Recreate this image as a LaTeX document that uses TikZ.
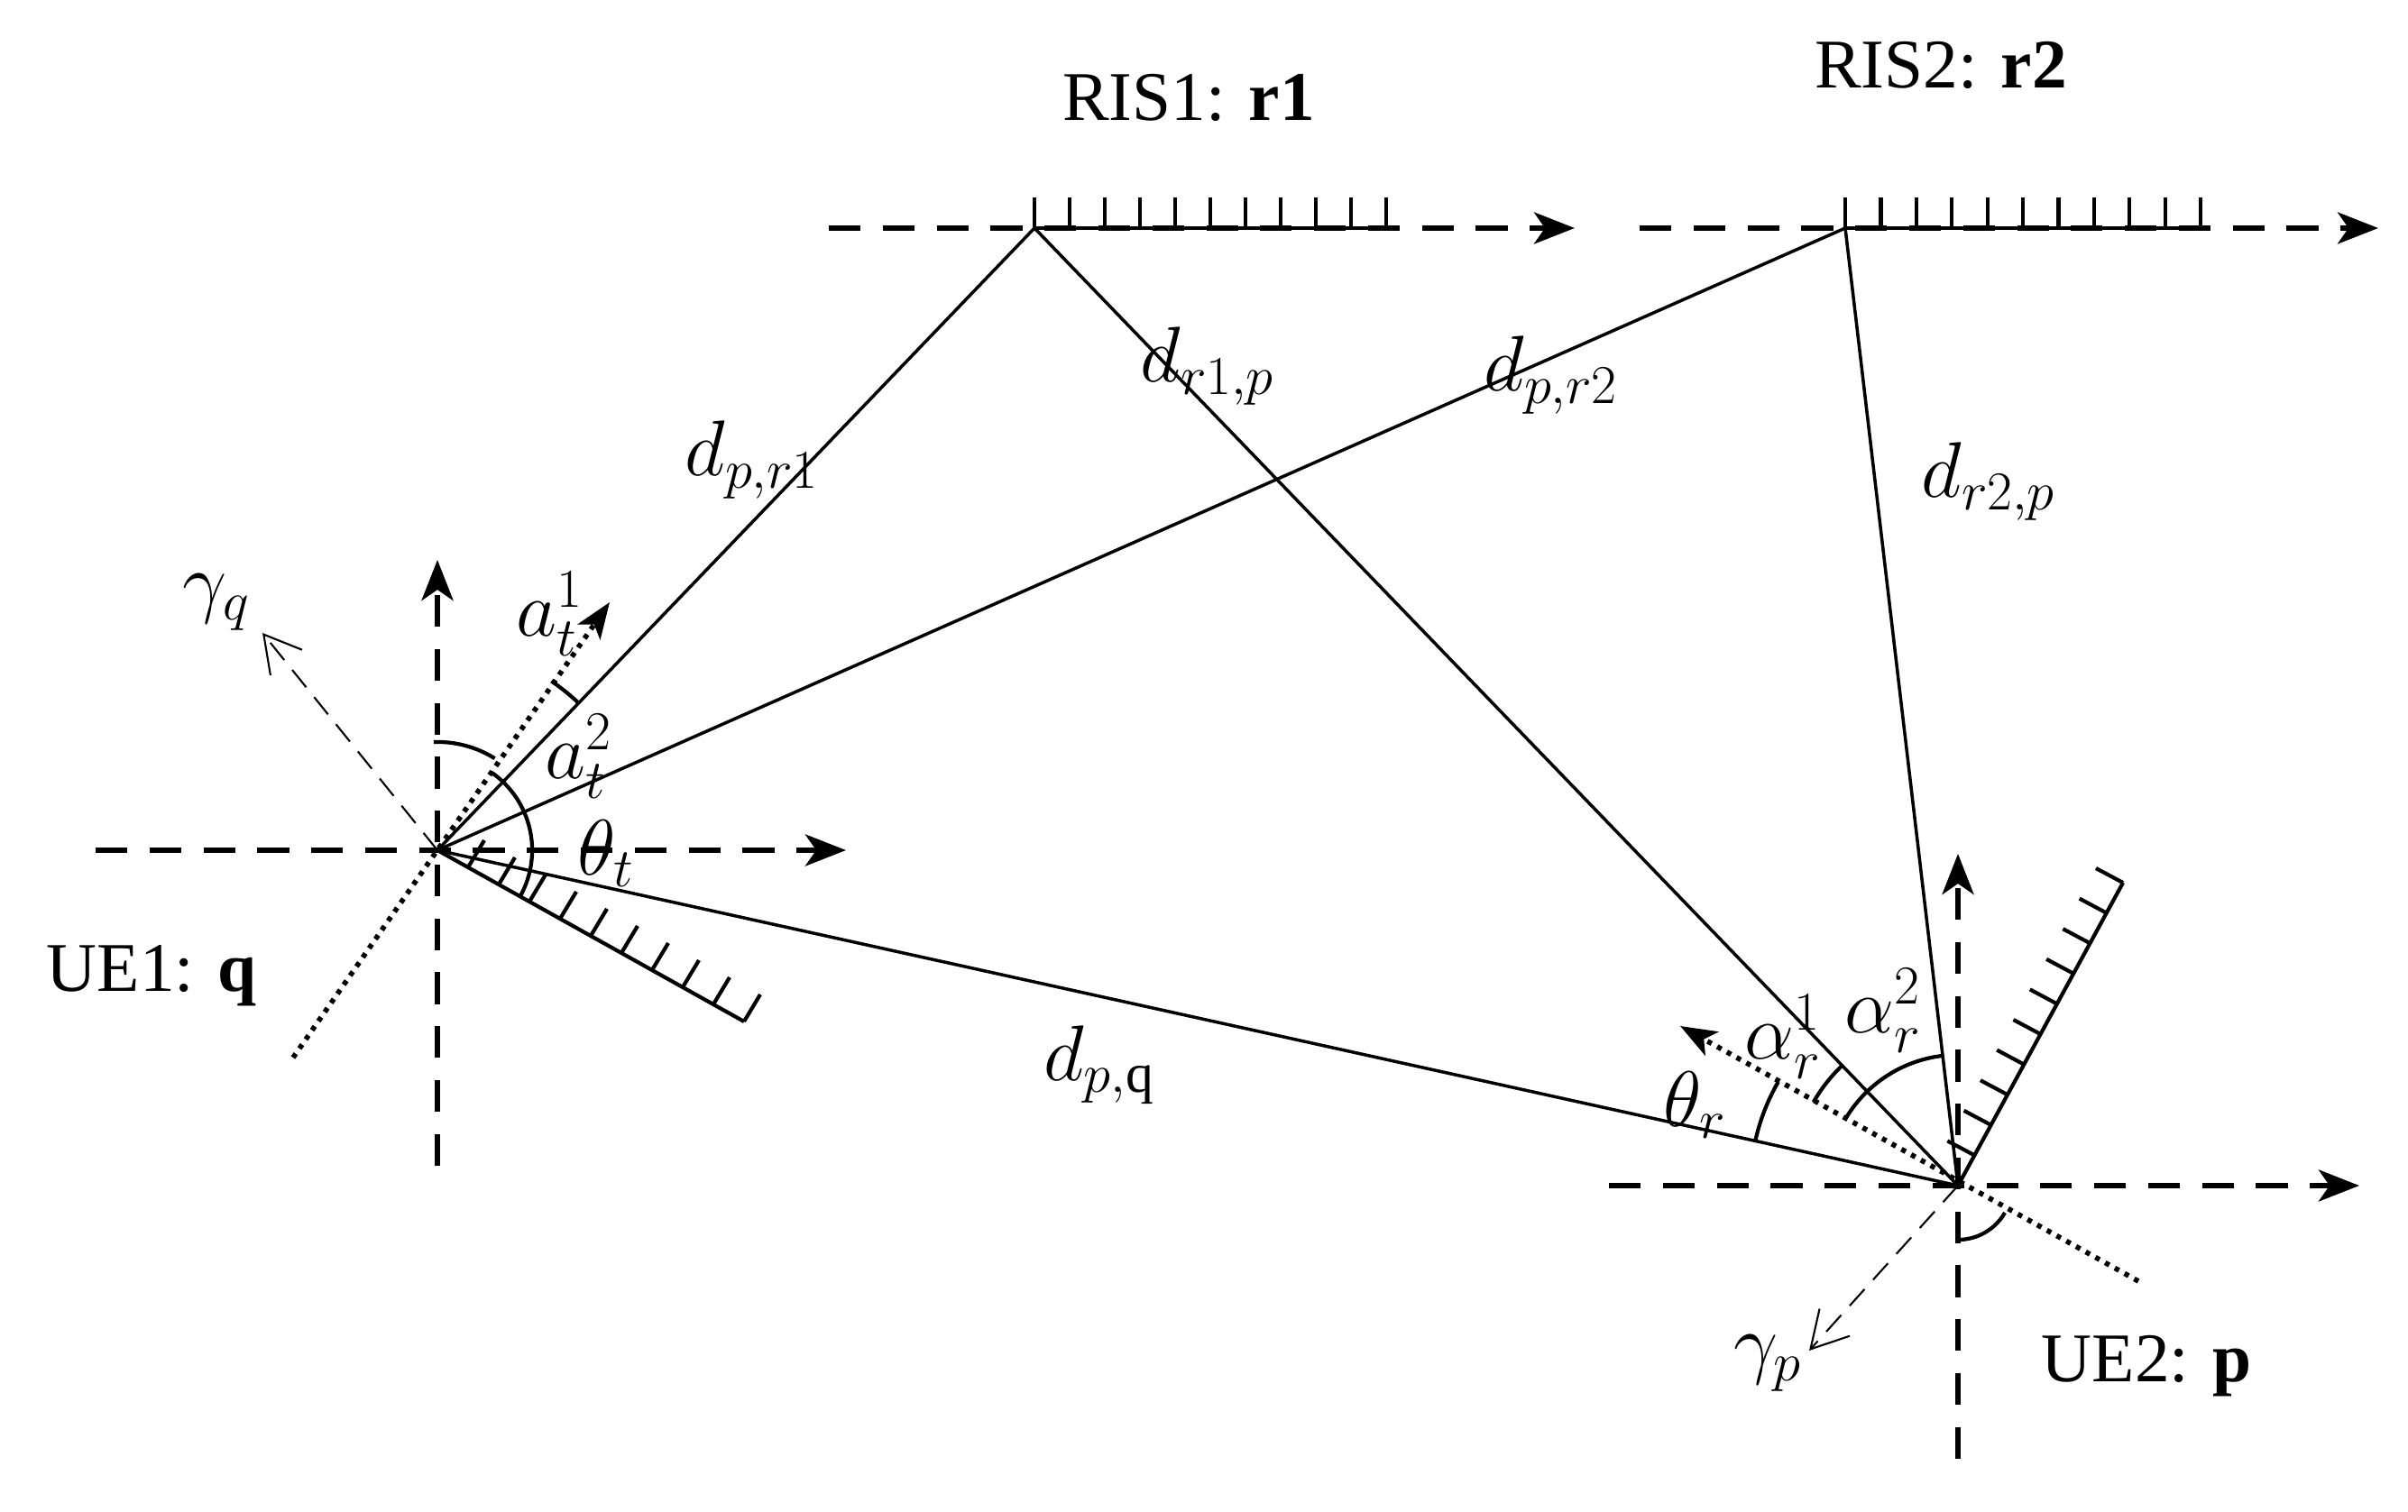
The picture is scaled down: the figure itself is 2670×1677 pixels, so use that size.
\documentclass[tikz,border=0pt]{standalone}
\usepackage{fontspec}
\setmainfont{Liberation Serif}
\usetikzlibrary{arrows.meta,calc}
\begin{document}
\begin{tikzpicture}[x=0.01cm,y=-0.01cm,
  ax/.style={line width=1.6pt,dash pattern=on 10pt off 7pt,-{Stealth[length=0.45cm,width=0.35cm,inset=0.12cm]}},
  axn/.style={line width=1.6pt,dash pattern=on 10pt off 7pt},
  ray/.style={line width=1pt},
  dot/.style={line width=1.6pt,dash pattern=on 1.5pt off 2pt},
  gam/.style={line width=0.6pt,dash pattern=on 7pt off 4pt,-{Straight Barb[length=0.4cm,width=0.45cm]}},
  ang/.style={line width=1.2pt},
  tick/.style={line width=1.2pt},
  lab/.style={font=\fontsize{22}{26}\selectfont},
  ml/.style={font=\fontsize{25}{30}\selectfont}]
\useasboundingbox (0,0) rectangle (2670,1677);
\coordinate (O1) at (485,943);
\coordinate (O2) at (2171,1315);
\coordinate (R1) at (1147,253);
\coordinate (R2) at (2046,253);
% RIS1
\coordinate (R1a) at (919,253); \coordinate (R1b) at (1746,253); \coordinate (R1e) at (1537,253);
\draw[ax] (R1a) -- (R1b);
\draw[tick] (R1) -- (R1e);
\foreach \t in {0,0.1,...,1.01} \draw[tick] ($(R1)!\t!(R1e)$) -- ++(0,0.34cm);
% RIS2
\coordinate (R2a) at (1818,253); \coordinate (R2b) at (2637,253); \coordinate (R2e) at (2440,253);
\draw[ax] (R2a) -- (R2b);
\draw[tick] (R2) -- (R2e);
\foreach \t in {0,0.1,...,1.01} \draw[tick] ($(R2)!\t!(R2e)$) -- ++(0,0.34cm);
% UE1 axes
\coordinate (H1a) at (106,943); \coordinate (H1b) at (938,943);
\coordinate (V1a) at (485,1293); \coordinate (V1b) at (485,621);
\draw[ax] (H1a) -- (H1b);
\draw[ax] (V1a) -- (V1b);
% UE2 axes
\coordinate (H2a) at (1784,1315); \coordinate (H2b) at (2616,1315);
\coordinate (V2a) at (2171,1618); \coordinate (V2b) at (2171,947);
\draw[ax] (H2a) -- (H2b);
\draw[ax] (V2a) -- (V2b);
% rays
\draw[ray] (O1) -- (R1);
\draw[ray] (O1) -- (R2);
\draw[ray] (O1) -- (O2);
\draw[ray] (R1) -- (O2);
\draw[ray] (R2) -- (O2);
% panels
\coordinate (P1) at (825,1133);
\draw[tick] (O1) -- (P1);
\foreach \t in {0.1,0.2,...,1.01} \draw[tick] ($(O1)!\t!(P1)$) -- ++(0.18cm,0.3cm);
\coordinate (P2) at (2354,979);
\draw[tick] (O2) -- (P2);
\foreach \t in {0.1,0.2,...,1.01} \draw[tick] ($(O2)!\t!(P2)$) -- ++(-0.3cm,0.16cm);
% dotted
\coordinate (D1a) at (325,1173); \coordinate (D1b) at (676,668);
\draw[dot,-{Stealth[length=0.4cm,width=0.3cm,inset=0.1cm]}] (D1a) -- (D1b);
\coordinate (D2a) at (2371,1421); \coordinate (D2b) at (1863,1138);
\draw[dot,-{Stealth[length=0.4cm,width=0.3cm,inset=0.1cm]}] (D2a) -- (D2b);
% gamma arrows
\coordinate (G1) at (291,702); \coordinate (G2) at (2006,1498);
\draw[gam] (O1) -- (G1);
\draw[gam] (O2) -- (G2);
% angle arcs UE1
\draw[ang] ([shift={(58:1.2cm)}]O1) arc[start angle=58,end angle=92,radius=1.2cm];
\draw[ang] ([shift={(46:2.26cm)}]O1) arc[start angle=46,end angle=56,radius=2.26cm];
\draw[ang] ([shift={(55:1.05cm)}]O1) arc[start angle=55,end angle=-29,radius=1.05cm];
% angle arcs UE2
\draw[ang] ([shift={(150:2.3cm)}]O2) arc[start angle=150,end angle=167.6,radius=2.3cm];
\draw[ang] ([shift={(134:1.85cm)}]O2) arc[start angle=134,end angle=150,radius=1.85cm];
\draw[ang] ([shift={(96.7:1.45cm)}]O2) arc[start angle=96.7,end angle=150,radius=1.45cm];
\draw[ang] ([shift={(270:0.6cm)}]O2) arc[start angle=270,end angle=330,radius=0.6cm];
% labels
\node[lab] (l1) at (1318,108) {RIS1: \textbf{r1}};
\node[lab] (l2) at (2152,72) {RIS2: \textbf{r2}};
\node[lab] (l3) at (168,1082) {UE1: \textbf{q}};
\node[lab] (l4) at (2380,1515) {UE2: \textbf{p}};
\node[ml] (m1) at (834,510) {$d_{p,r1}$};
\node[ml] (m2) at (1339,406) {$d_{r1,p}$};
\node[ml] (m3) at (1720,416) {$d_{p,r2}$};
\node[ml] (m4) at (2205,534) {$d_{r2,p}$};
\node[ml] (m5) at (1219,1181) {$d_{p,\mathrm{q}}$};
\node[ml] (m6) at (240,668) {$\gamma_q$};
\node[ml] (m7) at (1960,1512) {$\gamma_p$};
\node[ml] (m8) at (610,681) {$a_t^1$};
\node[ml] (m9) at (642,839) {$a_t^2$};
\node[ml] (m10) at (672,947) {$\theta_t$};
\node[ml] (m11) at (1977,1150) {$\alpha_r^1$};
\node[ml] (m12) at (2088,1121) {$\alpha_r^2$};
\node[ml] (m13) at (1880,1226) {$\theta_r$};
\end{tikzpicture}
\end{document}
